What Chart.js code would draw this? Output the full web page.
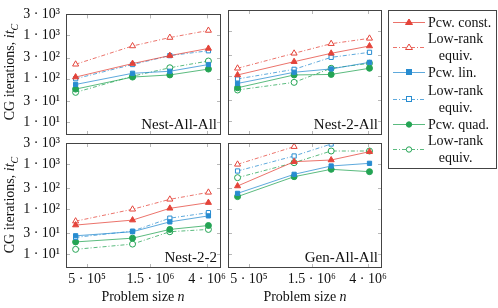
<!doctype html>
<html lang="en">
  <head>
    <meta charset="utf-8">
    <title>CG iterations vs problem size</title>
    <style>
      body { margin: 0; background: #fff; }
      #wrap { position: relative; width: 498px; height: 308px; font-family: "Liberation Serif", serif; color: #111; }
      #wrap canvas { position: absolute; left: 0; top: 0; }
      .ytitle { position: absolute; left: 11px; font-size: 14px; white-space: nowrap; transform: translate(-50%, -50%) rotate(-90deg); }
      .xtitle { position: absolute; top: 297px; font-size: 14px; white-space: nowrap; transform: translate(-50%, -50%); }
      #legend { position: absolute; left: 388px; top: 10px; width: 109px; height: 159px; border: 1px solid #444; box-sizing: border-box; font-size: 14px; }
      .entry { position: absolute; left: 4px; display: flex; align-items: center; }
      .entry svg { flex: none; }
      .entry span { margin-left: 3px; line-height: 17px; text-align: center; }
    </style>
  </head>
  <body>
    <div id="wrap">
      <canvas id="c0" width="498" height="308"></canvas>
      <canvas id="c1" width="498" height="308"></canvas>
      <canvas id="c2" width="498" height="308"></canvas>
      <canvas id="c3" width="498" height="308"></canvas>
      <div class="ytitle" style="top:72px">CG iterations, <i>it<sub style="font-size:10px">C</sub></i></div>
      <div class="ytitle" style="top:205px">CG iterations, <i>it<sub style="font-size:10px">C</sub></i></div>
      <div class="xtitle" style="left:143px">Problem size <i>n</i></div>
      <div class="xtitle" style="left:305px">Problem size <i>n</i></div>
      <div id="legend"></div>
    </div>

    <script src="https://cdn.jsdelivr.net/npm/chart.js"></script>
    <script>
        // problem sizes (x) and axis ticks
        const sizes = [4.1e5, 1.1e6, 2.1e6, 4.1e6];
        const xTicks = [5e5, 1.5e6, 4e6];
        const xTickLabels = ['5 · 10⁵', '1.5 · 10⁶', '4 · 10⁶'];
        const yTicks = [10, 30, 100, 300, 1000, 3000];
        const yTickLabels = ['1 · 10¹', '3 · 10¹', '1 · 10²', '3 · 10²', '1 · 10³', '3 · 10³'];

        const seriesNames = ['Pcw. const.', 'Low-rank equiv.', 'Pcw. lin.', 'Low-rank equiv.', 'Pcw. quad.', 'Low-rank equiv.'];

        // Nest-All-All
        const nestAllAll = [
            [108, 221, 337, 493],
            [213, 562, 879, 1279],
            [73, 132, 147, 210],
            [99, 210, 337, 436],
            [57, 108, 121, 165],
            [48, 113, 177, 253]
        ];
        // Nest-2-All
        const nest2All = [
            [108, 213, 327, 475],
            [152, 327, 535, 703],
            [70, 124, 147, 206],
            [88, 144, 266, 344],
            [56, 108, 111, 152],
            [50, 74, 152, 196]
        ];
        // Nest-2-2
        const nest22 = [
            [45, 58, 106, 142],
            [55, 101, 168, 240],
            [26, 32, 53, 72],
            [24, 33, 64, 85],
            [19, 23, 36, 44],
            [13, 17, 32, 36]
        ];
        // Gen-All-All (missing points did not make it into the plot)
        const genAllAll = [
            [332, 1153, 1256, 1923],
            [1007, 2488, null, null],
            [228, 604, 925, 1060],
            [716, 1542, 2850, null],
            [193, 535, 780, 692],
            [509, 1096, 1991, 1991]
        ];

        const red = 'rgb(228, 68, 58)';
        const blue = 'rgb(40, 140, 208)';
        const green = 'rgb(36, 164, 84)';
        const styles = [
            { color: red, line: 'rgba(228, 68, 58, 0.75)', shape: 'triangle', filled: true },
            { color: red, line: 'rgba(228, 68, 58, 0.75)', shape: 'triangle', filled: false },
            { color: blue, line: 'rgba(40, 140, 208, 0.75)', shape: 'rect', filled: true },
            { color: blue, line: 'rgba(40, 140, 208, 0.75)', shape: 'rect', filled: false },
            { color: green, line: 'rgba(36, 164, 84, 0.75)', shape: 'circle', filled: true },
            { color: green, line: 'rgba(36, 164, 84, 0.75)', shape: 'circle', filled: false }
        ];

        // frame, inward ticks and panel name
        const framePlugin = {
            id: 'frame',
            beforeDatasetsDraw(chart, args, opts) {
                const { ctx, chartArea: a, scales } = chart;
                ctx.save();
                ctx.strokeStyle = '#b8b8b8';
                ctx.lineWidth = 1;
                ctx.beginPath();
                xTicks.forEach((v) => {
                    const x = Math.round(scales.x.getPixelForValue(v)) + 0.5;
                    ctx.moveTo(x, a.bottom); ctx.lineTo(x, a.bottom - 4);
                    ctx.moveTo(x, a.top); ctx.lineTo(x, a.top + 4);
                });
                yTicks.forEach((v) => {
                    const y = Math.round(scales.y.getPixelForValue(v)) + 0.5;
                    ctx.moveTo(a.left, y); ctx.lineTo(a.left + 4, y);
                    ctx.moveTo(a.right, y); ctx.lineTo(a.right - 4, y);
                });
                ctx.stroke();
                ctx.restore();
            },
            afterDraw(chart, args, opts) {
                const { ctx, chartArea: a } = chart;
                ctx.save();
                ctx.strokeStyle = '#444';
                ctx.lineWidth = 1;
                ctx.strokeRect(Math.round(a.left) + 0.5, Math.round(a.top) + 0.5, Math.round(a.right - a.left) - 1, Math.round(a.bottom - a.top) - 1);
                ctx.fillStyle = '#111';
                ctx.font = '15px "Liberation Serif"';
                ctx.textAlign = 'right';
                ctx.textBaseline = 'alphabetic';
                ctx.fillText(opts.label, a.right - 4, a.bottom - 6);
                ctx.restore();
            }
        };

        const makePanel = (id, name, series, box, showX, showY) => {
            const datasets = series.map((vals, i) => ({
                label: seriesNames[i],
                data: vals.map((v, j) => ({ x: sizes[j], y: v })),
                borderColor: styles[i].line,
                borderWidth: 1,
                borderDash: styles[i].filled ? [] : [4, 2, 1, 2],
                pointStyle: styles[i].shape,
                pointRadius: styles[i].shape === 'triangle' ? 3.5 : 3,
                pointBorderWidth: 1,
                pointBorderColor: styles[i].color,
                pointBackgroundColor: styles[i].filled ? styles[i].color : '#fff',
                spanGaps: false,
                tension: 0
            }));
            const yWidth = showY ? 66 : 0;
            const xHeight = showX ? 24 : 0;
            const chart = new Chart(document.getElementById(id), {
                type: 'line',
                data: { datasets },
                options: {
                    responsive: false,
                    animation: false,
                    events: [],
                    layout: {
                        padding: {
                            left: box.left - yWidth,
                            top: box.top,
                            right: 498 - box.right,
                            bottom: 308 - box.bottom - xHeight
                        }
                    },
                    plugins: {
                        legend: { display: false },
                        tooltip: { enabled: false },
                        frame: { label: name }
                    },
                    scales: {
                        x: {
                            type: 'logarithmic',
                            min: 3.47e5,
                            max: 5.1e6,
                            display: showX,
                            afterFit: (s) => { s.height = xHeight; },
                            afterBuildTicks: (s) => { s.ticks = xTicks.map((v) => ({ value: v })); },
                            ticks: {
                                callback: (v) => xTickLabels[xTicks.indexOf(v)],
                                color: '#111',
                                font: { family: 'Liberation Serif', size: 14 },
                                padding: 3,
                                maxRotation: 0,
                                autoSkip: false
                            },
                            grid: { display: false, drawTicks: false },
                            border: { display: false }
                        },
                        y: {
                            type: 'logarithmic',
                            min: 5,
                            max: 3000,
                            display: showY,
                            afterFit: (s) => { s.width = yWidth; },
                            afterBuildTicks: (s) => { s.ticks = yTicks.map((v) => ({ value: v })); },
                            ticks: {
                                callback: (v) => yTickLabels[yTicks.indexOf(v)],
                                color: '#111',
                                font: { family: 'Liberation Serif', size: 14 },
                                padding: 6,
                                autoSkip: false
                            },
                            grid: { display: false, drawTicks: false },
                            border: { display: false }
                        }
                    }
                },
                plugins: [framePlugin]
            });
            // label overflow adds its own padding; correct it so the plot box lands where it should
            for (let k = 0; k < 2; k++) {
                const a = chart.chartArea;
                const p = chart.options.layout.padding;
                p.left += box.left - a.left;
                p.top += box.top - a.top;
                p.right += a.right - box.right;
                p.bottom += a.bottom - box.bottom;
                chart.update();
            }
            return chart;
        };

        makePanel('c0', 'Nest-All-All', nestAllAll, { left: 66, top: 10, right: 221, bottom: 135 }, false, true);
        makePanel('c1', 'Nest-2-All', nest2All, { left: 228, top: 10, right: 382, bottom: 135 }, false, false);
        makePanel('c2', 'Nest-2-2', nest22, { left: 66, top: 143, right: 221, bottom: 268 }, true, true);
        makePanel('c3', 'Gen-All-All', genAllAll, { left: 228, top: 143, right: 382, bottom: 268 }, true, false);

        // legend: sample line + marker, then the (wrapped) label
        const legendRows = [
            { top: 3, text: 'Pcw. const.' },
            { top: 19, text: 'Low-rank<br>equiv.' },
            { top: 53, text: 'Pcw. lin.' },
            { top: 71, text: 'Low-rank<br>equiv.' },
            { top: 105, text: 'Pcw. quad.' },
            { top: 121, text: 'Low-rank<br>equiv.' }
        ];
        const markerSvg = (st) => {
            const fill = st.filled ? st.color : '#fff';
            let m = '';
            if (st.shape === 'triangle') m = `<polygon points="16,2 19.5,7.5 12.5,7.5" fill="${fill}" stroke="${st.color}"/>`;
            else if (st.shape === 'rect') m = `<rect x="13.5" y="2.5" width="5" height="5" fill="${fill}" stroke="${st.color}"/>`;
            else m = `<circle cx="16" cy="5.5" r="2.7" fill="${fill}" stroke="${st.color}"/>`;
            const dash = st.filled ? '' : 'stroke-dasharray="4 2 1 2"';
            return `<svg width="32" height="11"><line x1="0" y1="5.5" x2="32" y2="5.5" stroke="${st.line}" ${dash}/>${m}</svg>`;
        };
        const legend = document.getElementById('legend');
        legendRows.forEach((row, i) => {
            const el = document.createElement('div');
            el.className = 'entry';
            el.style.top = row.top + 'px';
            el.innerHTML = markerSvg(styles[i]) + `<span>${row.text}</span>`;
            legend.appendChild(el);
        });
    </script>
  </body>
</html>
